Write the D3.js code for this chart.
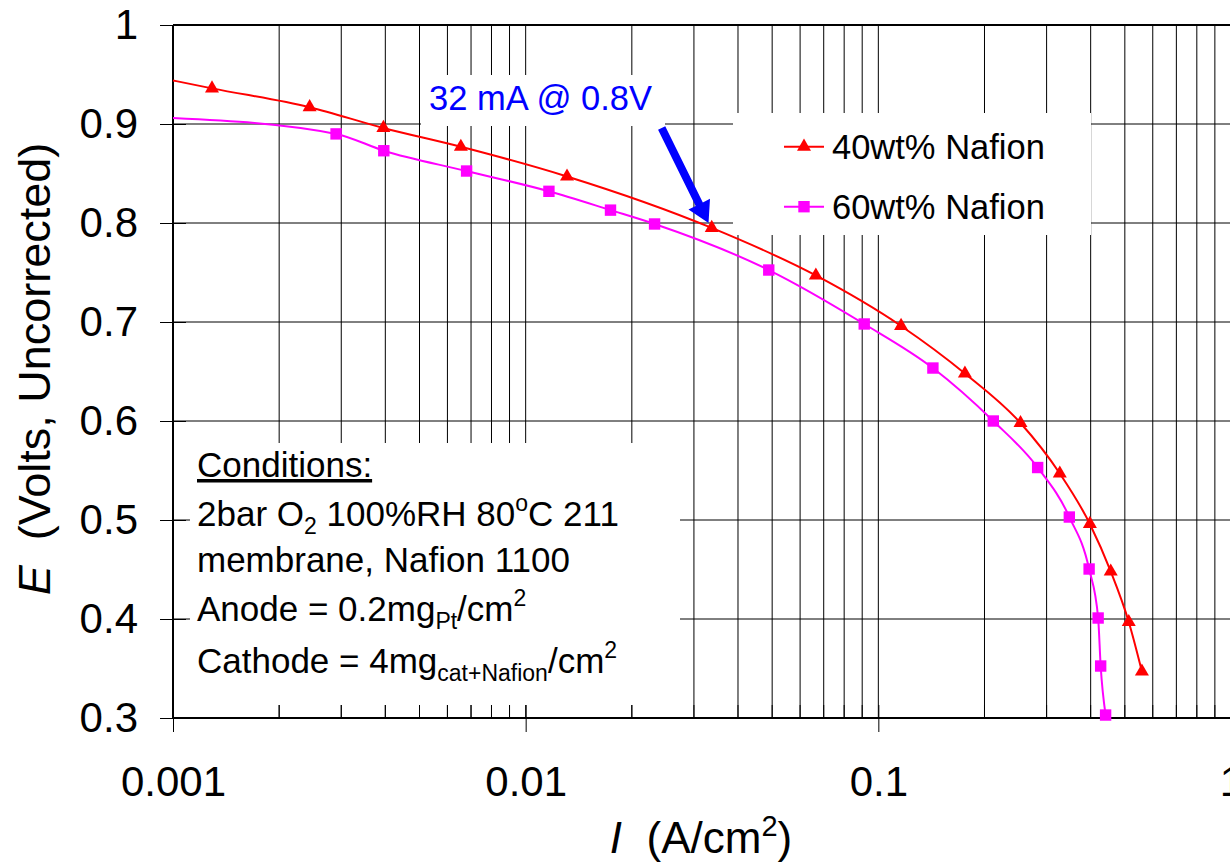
<!DOCTYPE html>
<html>
<head>
<meta charset="UTF-8">
<title>Polarization curves</title>
<script src="https://cdn.jsdelivr.net/npm/d3@7"></script>
<style>
  body { margin: 0; background: #fff; }
  svg { display: block; font-family: "Liberation Sans", Arial, sans-serif; }
</style>
</head>
<body>
<svg id="chart" width="1230" height="862"></svg>
<script>
// current density (A/cm2) and cell voltage (V)
const i40 = [0.00129, 0.00244, 0.00395, 0.00655, 0.0131, 0.0337, 0.0665, 0.116, 0.176, 0.253, 0.327, 0.398, 0.456, 0.513, 0.559];
const e40 = [0.936, 0.917, 0.896, 0.877, 0.847, 0.795, 0.747, 0.696, 0.648, 0.598, 0.547, 0.496, 0.448, 0.397, 0.347];
const i60 = [0.0029, 0.00396, 0.0068, 0.01164, 0.0174, 0.0232, 0.0489, 0.0912, 0.1428, 0.2118, 0.283, 0.348, 0.396, 0.420, 0.427, 0.441];
const e60 = [0.890, 0.873, 0.8525, 0.832, 0.813, 0.799, 0.7525, 0.698, 0.6535, 0.600, 0.553, 0.503, 0.4505, 0.401, 0.3525, 0.303];

// the drawn curves start at the left edge of the plot
const fitStartI = 0.001;
const fitStart40 = 0.944;
const fitStart60 = 0.906;

const xTicks = [0.001, 0.01, 0.1, 1];
const yTicks = [0.3, 0.4, 0.5, 0.6, 0.7, 0.8, 0.9, 1];
const seriesNames = ["40wt% Nafion", "60wt% Nafion"];

// arrow annotation: tail and tip in data units
const noteText = "32 mA @ 0.8V";
const noteTail = [0.0243, 0.896];
const noteTip = [0.033, 0.8];

const svg = d3.select("#chart");
const W = 1230, H = 862;
const pL = 173, pT = 25, pB = 718, pR = 1231;

const x = d3.scaleLog().domain([0.001, 1]).range([pL, pR]);
const y = d3.scaleLinear().domain([0.3, 1]).range([pB, pT]);

svg.append("rect").attr("width", W).attr("height", H).attr("fill", "#fff");

// grid
const grid = svg.append("g").attr("stroke", "#000").attr("stroke-width", 1);
grid.selectAll(".vg")
  .data(x.ticks())
  .join("line")
  .attr("x1", d => x(d)).attr("x2", d => x(d))
  .attr("y1", pT).attr("y2", pB);
grid.selectAll(".hg")
  .data(yTicks)
  .join("line")
  .attr("x1", pL).attr("x2", pR)
  .attr("y1", d => y(d)).attr("y2", d => y(d));

// white text boxes sitting over the grid
const boxes = [
  [421, 75, 244, 51],
  [733, 113, 358, 122],
  [190, 443, 490, 262]
];
svg.selectAll(".box")
  .data(boxes)
  .join("rect")
  .attr("x", d => d[0]).attr("y", d => d[1])
  .attr("width", d => d[2]).attr("height", d => d[3])
  .attr("fill", "#fff");

// frame
svg.append("line").attr("x1", pL).attr("x2", pR).attr("y1", pT).attr("y2", pT)
  .attr("stroke", "#000").attr("stroke-width", 2);
svg.append("line").attr("x1", pL).attr("x2", pL).attr("y1", pT).attr("y2", pB)
  .attr("stroke", "#000").attr("stroke-width", 2);
svg.append("line").attr("x1", pL).attr("x2", pR).attr("y1", pB).attr("y2", pB)
  .attr("stroke", "#000").attr("stroke-width", 2);

// y axis
const yAxis = svg.append("g")
  .attr("transform", `translate(${pL},0)`)
  .call(d3.axisLeft(y).tickValues(yTicks).tickSize(13).tickPadding(22)
    .tickFormat(d => d === 1 ? "1" : d3.format(".1f")(d)));
yAxis.select(".domain").remove();
yAxis.selectAll("text").attr("font-size", 42).attr("font-family", "Liberation Sans, Arial, sans-serif").attr("fill", "#000");
yAxis.selectAll(".tick line").attr("x2", 13).attr("x1", -13).attr("stroke", "#000");

// x axis
const xAxis = svg.append("g")
  .attr("transform", `translate(0,${pB})`)
  .call(d3.axisBottom(x).tickValues(xTicks).tickSize(13).tickFormat(d3.format("~g")));
xAxis.select(".domain").remove();
xAxis.selectAll("text").attr("font-size", 42).attr("font-family", "Liberation Sans, Arial, sans-serif")
  .attr("fill", "#000").attr("y", 78).attr("dy", 0);
xAxis.selectAll(".tick line").attr("y1", -13).attr("y2", 14).attr("stroke", "#000");
svg.append("g").selectAll("line")
  .data(x.ticks().filter(d => !xTicks.includes(d)))
  .join("line")
  .attr("x1", d => x(d)).attr("x2", d => x(d))
  .attr("y1", pB - 13).attr("y2", pB)
  .attr("stroke", "#000");

// series
const red = "#ff0000", mag = "#ff00ff";
const line = d3.line().x(d => x(d[0])).y(d => y(d[1])).curve(d3.curveMonotoneX);
const pts40 = i40.map((v, k) => [v, e40[k]]);
const pts60 = i60.map((v, k) => [v, e60[k]]);

svg.append("path").datum([[fitStartI, fitStart60], ...pts60])
  .attr("d", line).attr("fill", "none").attr("stroke", mag).attr("stroke-width", 2);
svg.append("path").datum([[fitStartI, fitStart40], ...pts40])
  .attr("d", line).attr("fill", "none").attr("stroke", red).attr("stroke-width", 2);

const tri = d3.symbol(d3.symbolTriangle, 85);
const sq = d3.symbol(d3.symbolSquare, 130);
svg.append("g").selectAll("path")
  .data(pts60).join("path")
  .attr("d", sq).attr("fill", mag)
  .attr("transform", d => `translate(${x(d[0])},${y(d[1])})`);
svg.append("g").selectAll("path")
  .data(pts40).join("path")
  .attr("d", tri).attr("fill", red)
  .attr("transform", d => `translate(${x(d[0])},${y(d[1])})`);

// legend
const legend = svg.append("g");
[[seriesNames[0], red, tri, 146.7, 159], [seriesNames[1], mag, sq, 206.7, 218.5]].forEach(([name, col, sym, ly, by]) => {
  legend.append("line").attr("x1", 784).attr("x2", 824).attr("y1", ly).attr("y2", ly)
    .attr("stroke", col).attr("stroke-width", 2);
  legend.append("path").attr("d", sym).attr("fill", col).attr("transform", `translate(804,${ly})`);
  legend.append("text").attr("x", 832).attr("y", by).attr("font-size", 34.5).attr("fill", "#000").text(name);
});

// annotation
svg.append("text").attr("x", 429).attr("y", 110).attr("font-size", 34.5).attr("fill", "#0000ff").text(noteText);
{
  const tx = x(noteTail[0]), ty = y(noteTail[1]);
  const px = x(noteTip[0]), py = y(noteTip[1]);
  const len = Math.hypot(px - tx, py - ty);
  const ux = (px - tx) / len, uy = (py - ty) / len;
  const nx = -uy, ny = ux;
  const hl = 21, hw = 12, sw = 4;
  const bx = px - ux * hl, by = py - uy * hl;
  const pts = [
    [tx + nx * sw, ty + ny * sw],
    [bx + nx * sw, by + ny * sw],
    [bx + nx * hw, by + ny * hw],
    [px, py],
    [bx - nx * hw, by - ny * hw],
    [bx - nx * sw, by - ny * sw],
    [tx - nx * sw, ty - ny * sw]
  ];
  svg.append("path").attr("d", "M" + pts.map(p => p.join(",")).join("L") + "Z").attr("fill", "#0000ff");
}

// conditions text
const cond = svg.append("g").attr("font-size", 35).attr("fill", "#000");
cond.append("text").attr("x", 197).attr("y", 477).attr("text-decoration", "underline").text("Conditions:");
let t = cond.append("text").attr("x", 197).attr("y", 526);
t.append("tspan").text("2bar O");
t.append("tspan").attr("font-size", 23).attr("dy", 8).text("2");
t.append("tspan").attr("dy", -8).text(" 100%RH 80");
t.append("tspan").attr("font-size", 23).attr("dy", -15).text("o");
t.append("tspan").attr("dy", 15).text("C 211");
cond.append("text").attr("x", 197).attr("y", 572).text("membrane, Nafion 1100");
t = cond.append("text").attr("x", 197).attr("y", 621);
t.append("tspan").text("Anode = 0.2mg");
t.append("tspan").attr("font-size", 23).attr("dy", 8).text("Pt");
t.append("tspan").attr("dy", -8).text("/cm");
t.append("tspan").attr("font-size", 23).attr("dy", -15).text("2");
t = cond.append("text").attr("x", 197).attr("y", 673);
t.append("tspan").text("Cathode = 4mg");
t.append("tspan").attr("font-size", 23).attr("dy", 8).text("cat+Nafion");
t.append("tspan").attr("dy", -8).text("/cm");
t.append("tspan").attr("font-size", 23).attr("dy", -15).text("2");

// axis titles
const xt = svg.append("text").attr("x", 701).attr("y", 853).attr("text-anchor", "middle")
  .attr("font-size", 44).attr("fill", "#000").style("white-space", "pre");
xt.append("tspan").attr("font-style", "italic").text("I");
xt.append("tspan").text("  (A/cm");
xt.append("tspan").attr("font-size", 29).attr("dy", -17).text("2");
xt.append("tspan").attr("dy", 17).text(")");

const yt = svg.append("text").attr("transform", "translate(50,369) rotate(-90)")
  .attr("text-anchor", "middle").attr("font-size", 45).attr("fill", "#000").style("white-space", "pre");
yt.append("tspan").attr("font-style", "italic").text("E");
yt.append("tspan").text("  (Volts, Uncorrected)");
</script>
</body>
</html>
